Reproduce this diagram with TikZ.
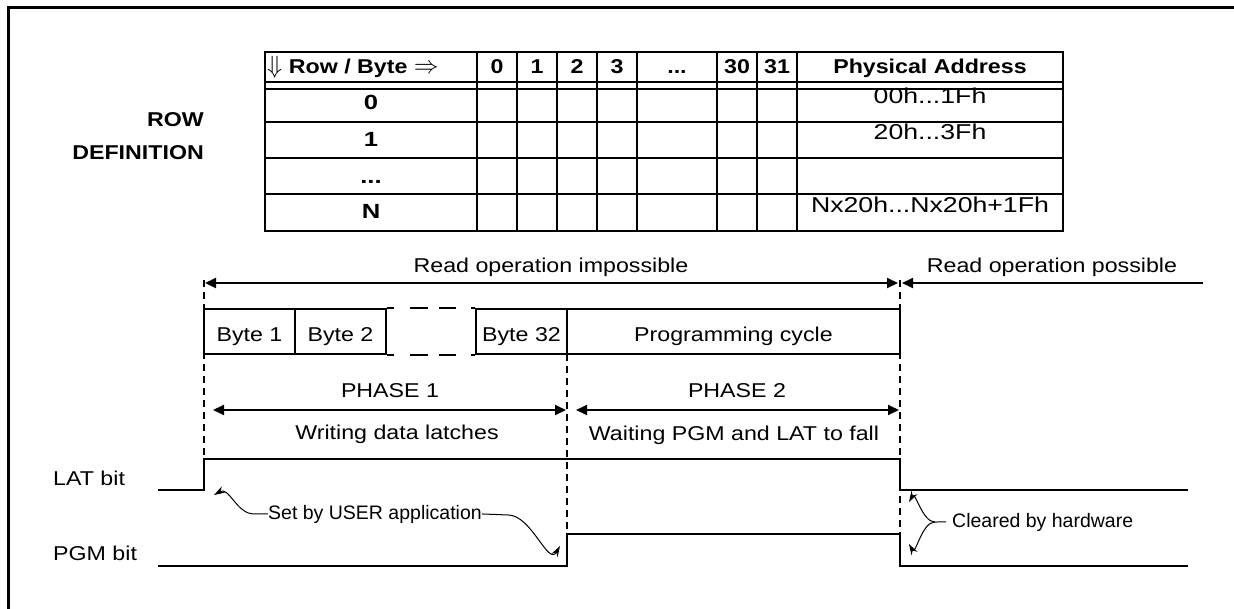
\documentclass[tikz,border=0pt]{standalone}
\usepackage{fontspec}
\setmainfont{Liberation Sans}
\newfontfamily\widef{Liberation Sans}[FakeStretch=1.16]
\newfontfamily\addrf{Liberation Sans}[FakeStretch=1.24]
\newfontfamily\rowf{Liberation Sans}[FakeStretch=1.25]
\usetikzlibrary{arrows.meta}
\begin{document}
\begin{tikzpicture}[x=1pt,y=-1pt,
 lbl/.style={font=\widef\fontsize{20}{24}\selectfont, inner sep=0pt, anchor=base},
 ann/.style={font=\fontsize{19.5}{23}\selectfont, inner sep=0pt, anchor=base west},
 thd/.style={font=\widef\bfseries\fontsize{20}{24}\selectfont, inner sep=0pt, anchor=base},
 rlab/.style={font=\rowf\bfseries\fontsize{20.5}{24}\selectfont, inner sep=0pt, anchor=base},
 addr/.style={font=\addrf\fontsize{21.5}{24}\selectfont, inner sep=0pt, anchor=base},
 ttl/.style={font=\widef\bfseries\fontsize{20}{24}\selectfont, inner sep=0pt, anchor=base east},
 gridline/.style={line width=2pt, line cap=rect},
 bytebox/.style={draw, line width=1.7pt, minimum height=45pt, inner sep=0pt, text height=19pt, text depth=0pt, font=\widef\fontsize{20}{24}\selectfont},
 sig/.style={line width=2pt},
 guide/.style={line width=1.6pt, dash pattern=on 7pt off 5pt},
 dimarrow/.style={line width=1.8pt, {Triangle[length=11pt,width=10pt]}-{Triangle[length=11pt,width=10pt]}},
 onearrow/.style={line width=1.8pt, -{Triangle[length=11pt,width=10pt]}},
 callout/.style={line width=1pt, -{Stealth[length=11pt,width=7pt]}},
]
\useasboundingbox (0,0) rectangle (1234,608);
\fill[white] (-5,-5) rectangle (1240,615);
% frame
\draw[line width=2.5pt] (8.5,615) -- (8.5,7.5) -- (1240,7.5);

% ---------- table ----------
\foreach \y in {52,82,89,122,158,194,231} \draw[gridline] (265,\y) -- (1063,\y);
\foreach \x in {265,477,517,557,597,637,717,757,797,1063} \draw[gridline] (\x,52) -- (\x,231);

\node[thd, anchor=base west] (hdr) at (267,73) {{\fontsize{27}{27}\selectfont$\Downarrow$} Row / Byte {\fontsize{24}{24}\selectfont$\Rightarrow$}};
\node[thd] (c0) at (497,73) {0};
\node[thd] (c1) at (537,73) {1};
\node[thd] (c2) at (577,73) {2};
\node[thd] (c3) at (617,73) {3};
\node[thd] (cdots) at (677,73) {...};
\node[thd] (c30) at (737,73) {30};
\node[thd] (c31) at (777,73) {31};
\node[thd] (cpa) at (930,73) {Physical Address};

\node[rlab] (r0) at (371,109) {0};
\node[rlab] (r1) at (371,146) {1};
\node[rlab] (rd) at (371,183) {...};
\node[rlab] (rN) at (371,218) {N};

\node[addr] (a0) at (930,103) {00h...1Fh};
\node[addr] (a1) at (930,139) {20h...3Fh};
\node[addr] (aN) at (930,212) {Nx20h...Nx20h+1Fh};

\node[ttl] (rowdefA) at (204,126) {ROW};
\node[ttl] (rowdefB) at (204,159) {DEFINITION};

% ---------- timing ----------
\node[lbl] (rimp) at (551,272) {Read operation impossible};
\node[lbl] (rpos) at (1052,272) {Read operation possible};

\coordinate (riL) at (205,283); \coordinate (riR) at (898,283);
\coordinate (rpR) at (1203,283); \coordinate (rpL) at (902,283);
\draw[dimarrow] (riL) -- (riR);
\draw[onearrow] (rpR) -- (rpL);

\node[bytebox, minimum width=91pt] (b1) at (249.5,331.5) {Byte 1};
\node[bytebox, minimum width=91pt] (b2) at (340.5,331.5) {Byte 2};
\node[bytebox, minimum width=91pt] (b32) at (521.5,331.5) {Byte 32};
\node[bytebox, minimum width=333pt] (prog) at (733.5,331.5) {Programming cycle};
\draw[line width=1.7pt, dash pattern=on 7pt off 16pt on 18pt off 11pt on 17pt off 15pt on 6pt off 0pt] (b2.north east) -- (b32.north west);
\draw[line width=1.7pt, dash pattern=on 7pt off 16pt on 18pt off 11pt on 17pt off 15pt on 6pt off 0pt] (b2.south east) -- (b32.south west);

% guides
\coordinate (g1t) at (204,280); \coordinate (g1b) at (204,459);
\coordinate (g2t) at (567,354); \coordinate (g2b) at (567,534);
\coordinate (g3t) at (900,280); \coordinate (g3b) at (900,534);
\draw[guide] (g1t) -- (g1b);
\draw[guide] (g2t) -- (g2b);
\draw[guide] (g3t) -- (g3b);

\node[lbl] (ph1) at (390,397) {PHASE 1};
\node[lbl] (ph2) at (737,397) {PHASE 2};
\coordinate (p1L) at (213,410); \coordinate (p1R) at (566,410);
\coordinate (p2L) at (576,410); \coordinate (p2R) at (899,410);
\draw[dimarrow] (p1L) -- (p1R);
\draw[dimarrow] (p2L) -- (p2R);
\node[lbl] (wr) at (397,439) {Writing data latches};
\node[lbl] (wt) at (734,440) {Waiting PGM and LAT to fall};

% signals
\node[lbl, anchor=base west] (lat) at (53,485) {LAT bit};
\node[lbl, anchor=base west] (pgm) at (53,560) {PGM bit};
\coordinate (latS) at (158,490); \coordinate (latE) at (1188,490);
\coordinate (pgmS) at (158,566); \coordinate (pgmE) at (1188,566);
\draw[sig] (latS) -| (204,459) -| (900,490) -- (latE);
\draw[sig] (pgmS) -| (567,534) -| (900,566) -- (pgmE);

% callouts
\node[ann] (set) at (268,519) {Set by USER application};
\coordinate (tipA) at (214,495);
\coordinate (tipB) at (560,546);
\draw[callout] (set.west) -- ++(-14,0) to[out=180,in=30] (tipA);
\draw[callout] (set.east) -- ++(26,1) to[out=0,in=240] (tipB);

\node[ann] (clr) at (952,527) {Cleared by hardware};
\coordinate (cj) at (935,522);
\coordinate (cTop) at (909,502);
\coordinate (cBot) at (909,544);
\draw[line width=1pt] ([xshift=-6pt]clr.west) -- (cj);
\draw[callout] (cj) to[out=180,in=60] (cTop);
\draw[callout] (cj) to[out=180,in=-60] (cBot);
\end{tikzpicture}
\end{document}
